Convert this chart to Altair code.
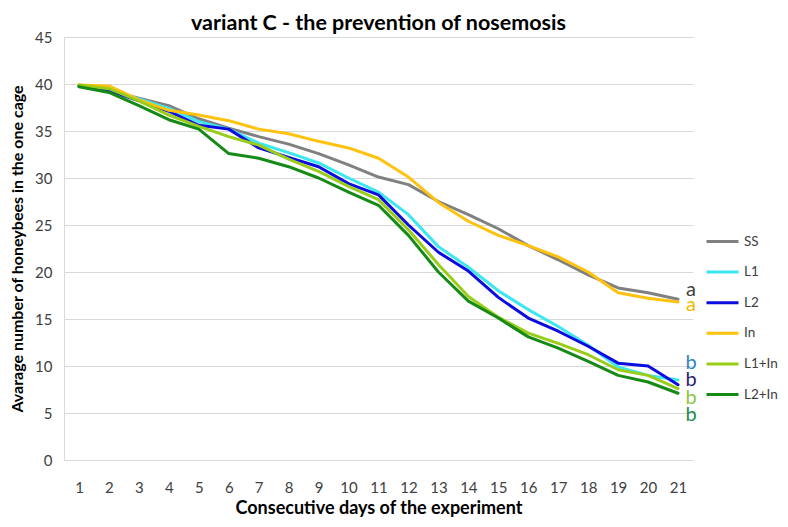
import altair as alt
import pandas as pd

days = list(range(1, 22))
series = ["SS", "L1", "L2", "In", "L1+In", "L2+In"]
colors = ["#808080", "#3ee6f0", "#0c0ce0", "#ffc20e", "#9acd18", "#168a16"]

ss = [39.8, 39.3, 38.5, 37.7, 36.3, 35.3, 34.4, 33.6, 32.6, 31.4, 30.1, 29.3, 27.5, 26.1, 24.6, 22.8, 21.3, 19.7, 18.3, 17.8, 17.1]
l1 = [39.9, 39.4, 38.4, 37.4, 36.0, 35.2, 33.7, 32.7, 31.6, 30.0, 28.5, 26.1, 22.7, 20.5, 18.0, 16.0, 14.2, 12.2, 9.9, 9.0, 8.5]
l2 = [39.8, 39.3, 38.2, 37.1, 35.6, 35.2, 33.2, 32.2, 31.2, 29.4, 28.2, 25.0, 22.1, 20.1, 17.3, 15.1, 13.7, 12.1, 10.3, 10.0, 8.0]
inn = [39.9, 39.8, 38.3, 37.2, 36.7, 36.1, 35.2, 34.7, 33.9, 33.2, 32.1, 30.1, 27.4, 25.4, 23.9, 22.8, 21.6, 20.0, 17.8, 17.2, 16.8]
l1in = [39.9, 39.5, 38.2, 36.7, 35.5, 34.4, 33.5, 32.0, 30.7, 29.1, 27.7, 24.5, 20.8, 17.4, 15.2, 13.5, 12.4, 11.2, 9.6, 9.0, 7.6]
l2in = [39.7, 39.1, 37.7, 36.2, 35.2, 32.6, 32.1, 31.2, 30.0, 28.5, 27.1, 23.9, 20.0, 16.9, 15.1, 13.1, 11.9, 10.5, 9.0, 8.3, 7.1]

# significance letters at the end of the lines
sig_letters = ["a", "a", "b", "b", "b", "b"]
sig_values = [18.1, 16.5, 10.3, 8.5, 6.6, 4.8]
sig_colors = ["#404040", "#f5b800", "#2e86c1", "#2a1f6e", "#8dc63f", "#1e8c4e"]

values = [ss, l1, l2, inn, l1in, l2in]
rows = []
for name, vals in zip(series, values):
    for d, v in zip(days, vals):
        rows.append({"day": d, "value": v, "series": name})
df = pd.DataFrame(rows)

sig_df = pd.DataFrame({"day": [21] * len(sig_letters), "value": sig_values,
                       "text": sig_letters, "col": sig_colors})

FONT = "Lato"

x_enc = alt.X("day:O", scale=alt.Scale(padding=0.5),
              axis=alt.Axis(title="Consecutive days of the experiment", labelAngle=0,
                            ticks=False, domainColor="#d9d9d9", labelPadding=20,
                            titleFontSize=18, titleFontWeight="bold", titlePadding=4,
                            titleColor="#000000"))
y_enc = alt.Y("value:Q", scale=alt.Scale(domain=[0, 45], nice=False),
              axis=alt.Axis(title="Avarage number of honeybees in the one cage",
                            values=list(range(0, 46, 5)), ticks=False, grid=True,
                            gridColor="#d9d9d9", domainColor="#d9d9d9", labelPadding=12,
                            titleFontSize=16, titleFontWeight="bold", titlePadding=9,
                            titleColor="#000000"))

lines = alt.Chart(df).mark_line(strokeWidth=3, strokeCap="round", strokeJoin="round").encode(
    x=x_enc,
    y=y_enc,
    color=alt.Color("series:N", sort=series,
                    scale=alt.Scale(domain=series, range=colors),
                    legend=alt.Legend(title=None, orient="none", legendX=641, legendY=187,
                                      symbolType="stroke", symbolSize=1024,
                                      symbolStrokeWidth=3, labelFont=FONT,
                                      labelFontSize=13.5, labelColor="#404040",
                                      rowPadding=6.6, labelOffset=4)),
    detail="series:N",
)

labels = alt.Chart(sig_df).mark_text(font=FONT, fontSize=20, dx=13, align="center",
                                     baseline="middle").encode(
    x=alt.X("day:O"),
    y=alt.Y("value:Q"),
    text="text:N",
    color=alt.Color("col:N", scale=None),
)

chart = alt.layer(lines, labels).properties(
    width=629,
    height=423,
    title=alt.TitleParams("variant C - the prevention of nosemosis", font=FONT,
                          fontSize=21.5, fontWeight="bold", anchor="middle",
                          color="#000000", offset=-4),
    autosize=alt.AutoSizeParams(type="none"),
    padding={"left": 56, "top": 29, "right": 87, "bottom": 59},
).configure_axis(
    labelFont=FONT, labelFontSize=15, labelColor="#404040", titleFont=FONT,
).configure_view(stroke=None)

chart.save("out.html", embed_options={"renderer": "svg", "actions": False})
